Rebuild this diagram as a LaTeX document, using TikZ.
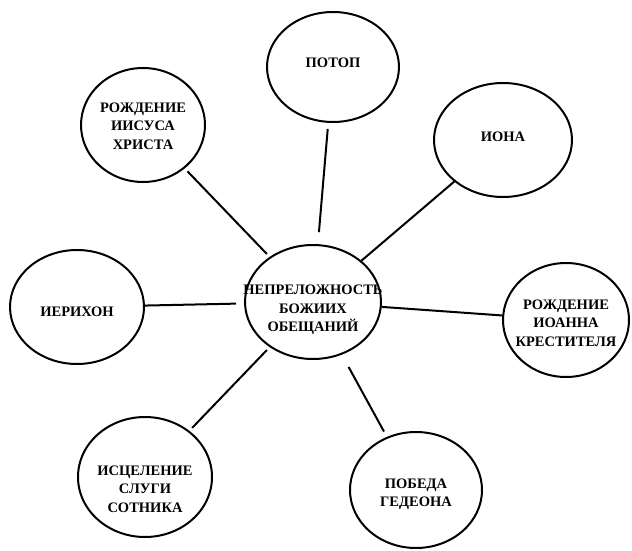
\documentclass[tikz,border=0pt]{standalone}
\usepackage{fontspec}
\setmainfont{Liberation Serif}
\usetikzlibrary{shapes.geometric}
\begin{document}
\begin{tikzpicture}[x=1pt,y=-1pt,
  bubble/.style={ellipse,draw,line width=2pt,inner sep=0pt},
  lbl/.style={align=center,font=\bfseries\fontsize{14.5}{18.5}\selectfont,inner sep=0pt},
  link/.style={line width=2pt}]
\useasboundingbox (0,0) rectangle (632,551);
\node[bubble,minimum width=136pt,minimum height=114pt] (c) at (313,302) {};
\node[lbl] at (313,310) {НЕПРЕЛОЖНОСТЬ\\БОЖИИХ\\ОБЕЩАНИЙ};
\node[bubble,minimum width=132pt,minimum height=110pt] (potop) at (333,67) {};
\node[lbl] at (333,63) {ПОТОП};
\node[bubble,minimum width=138pt,minimum height=114pt] (iona) at (503,140) {};
\node[lbl] at (503,137) {ИОНА};
\node[bubble,minimum width=126pt,minimum height=114pt] (ioann) at (566,320) {};
\node[lbl] at (566,323) {РОЖДЕНИЕ\\ИОАННА\\КРЕСТИТЕЛЯ};
\node[bubble,minimum width=132pt,minimum height=116pt] (pobeda) at (416,490) {};
\node[lbl] at (416,494) {ПОБЕДА\\ГЕДЕОНА};
\node[bubble,minimum width=134pt,minimum height=120pt] (iscel) at (145,477) {};
\node[lbl] at (145,489) {ИСЦЕЛЕНИЕ\\СЛУГИ\\СОТНИКА};
\node[bubble,minimum width=134pt,minimum height=114pt] (ierih) at (77,307) {};
\node[lbl] at (77,312) {ИЕРИХОН};
\node[bubble,minimum width=124pt,minimum height=114pt] (iisus) at (143,125) {};
\node[lbl] at (143,126) {РОЖДЕНИЕ\\ИИСУСА\\ХРИСТА};
\draw[link,shorten <=12pt,shorten >=6pt] (c) -- (potop);
\draw[link] (c) -- (iona);
\draw[link] (c) -- (ioann);
\draw[link,shorten <=14pt,shorten >=6pt] (c) -- (pobeda);
\draw[link,shorten <=4pt,shorten >=4pt] (c) -- (iscel);
\draw[link,shorten <=8pt] (c) -- (ierih);
\draw[link,shorten <=4pt,shorten >=4pt] (c) -- (iisus);
\end{tikzpicture}
\end{document}
